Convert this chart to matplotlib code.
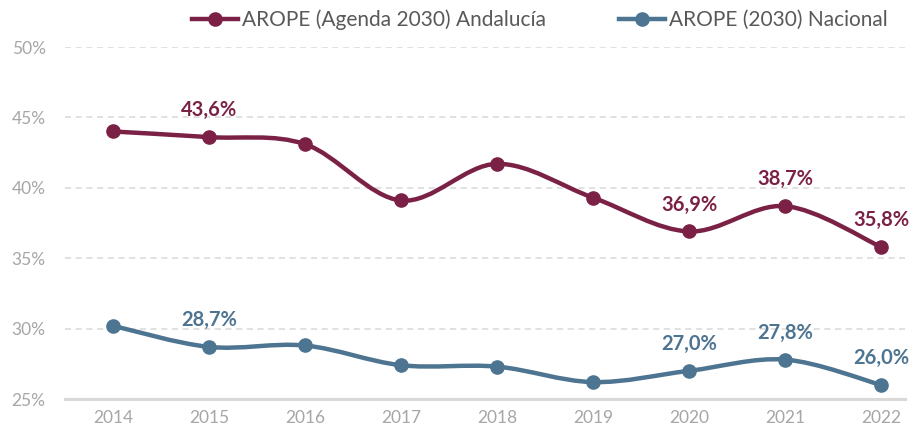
import matplotlib
matplotlib.use("Agg")
import matplotlib.pyplot as plt
from matplotlib.path import Path
from matplotlib.patches import PathPatch
from matplotlib.lines import Line2D
from matplotlib.ticker import FuncFormatter

years = ["2014", "2015", "2016", "2017", "2018", "2019", "2020", "2021", "2022"]
andalucia = [44.0, 43.6, 43.1, 39.1, 41.7, 39.3, 36.9, 38.7, 35.8]
nacional = [30.2, 28.7, 28.8, 27.4, 27.3, 26.2, 27.0, 27.8, 26.0]
label_andalucia = "AROPE (Agenda 2030) Andalucía"
label_nacional = "AROPE (2030) Nacional"
labeled_and = [1, 6, 7, 8]
labeled_nac = [1, 6, 7, 8]

C_AND = "#7B2146"
C_NAC = "#4D7490"
C_TICK = "#A6A6A6"
C_GRID = "#D9D9D9"

plt.rcParams['font.family'] = ['Lato', 'DejaVu Sans']

fig = plt.figure(figsize=(9.17, 4.37), dpi=100)
ax = fig.add_axes([65/917, 1-399/437, (905-65)/917, (399-47)/437])


def smooth_path(xs, ys):
    verts = [(xs[0], ys[0])]
    codes = [Path.MOVETO]
    n = len(xs)
    for i in range(n - 1):
        x0, y0 = (xs[i-1], ys[i-1]) if i > 0 else (xs[i], ys[i])
        x1, y1 = xs[i], ys[i]
        x2, y2 = xs[i+1], ys[i+1]
        x3, y3 = (xs[i+2], ys[i+2]) if i + 2 < n else (xs[i+1], ys[i+1])
        c1 = (x1 + (x2 - x0) / 6, y1 + (y2 - y0) / 6)
        c2 = (x2 - (x3 - x1) / 6, y2 - (y3 - y1) / 6)
        verts += [c1, c2, (x2, y2)]
        codes += [Path.CURVE4] * 3
    return Path(verts, codes)


xs = list(range(len(years)))
for vals, col in [(andalucia, C_AND), (nacional, C_NAC)]:
    ax.add_patch(PathPatch(smooth_path(xs, vals), facecolor="none",
                           edgecolor=col, lw=3.2, capstyle="round", zorder=3))
    ax.plot(xs, vals, "o", color=col, ms=9.5, zorder=4)

for i in labeled_and:
    ax.annotate(f"{andalucia[i]:.1f}%".replace(".", ","), (xs[i], andalucia[i]),
                xytext=(0, 12), textcoords="offset points", ha="center", va="bottom",
                color=C_AND, fontsize=14.5, fontweight="bold", zorder=5)
for i in labeled_nac:
    ax.annotate(f"{nacional[i]:.1f}%".replace(".", ","), (xs[i], nacional[i]),
                xytext=(0, 12), textcoords="offset points", ha="center", va="bottom",
                color=C_NAC, fontsize=14.5, fontweight="bold", zorder=5)

ax.set_ylim(25, 50)
ax.set_xlim(-0.5, (905-113)/96)
ax.set_yticks([25, 30, 35, 40, 45, 50])
ax.yaxis.set_major_formatter(FuncFormatter(lambda v, p: f"{v:.0f}%"))
ax.set_xticks(xs)
ax.set_xticklabels(years)
ax.grid(axis="y", color=C_GRID, ls=(0, (4, 3)), lw=1.1, zorder=0)
for s in ["top", "right", "left"]:
    ax.spines[s].set_visible(False)
ax.spines["bottom"].set_color(C_GRID)
ax.spines["bottom"].set_linewidth(2.2)
ax.tick_params(axis="both", length=0, labelsize=12.5, colors=C_TICK, pad=8)
ax.tick_params(axis="y", pad=14)

handles = [Line2D([0], [0], color=C_AND, lw=3.2, marker="o", ms=9.5),
           Line2D([0], [0], color=C_NAC, lw=3.2, marker="o", ms=9.5)]
fig.legend(handles, [label_andalucia, label_nacional], loc="center",
           bbox_to_anchor=(540/917, 1-20/437), ncol=2, frameon=False,
           fontsize=15, labelcolor="#595959", handlelength=2.2, handletextpad=0.2,
           columnspacing=3.5)

fig.savefig("out.png", dpi=100)
